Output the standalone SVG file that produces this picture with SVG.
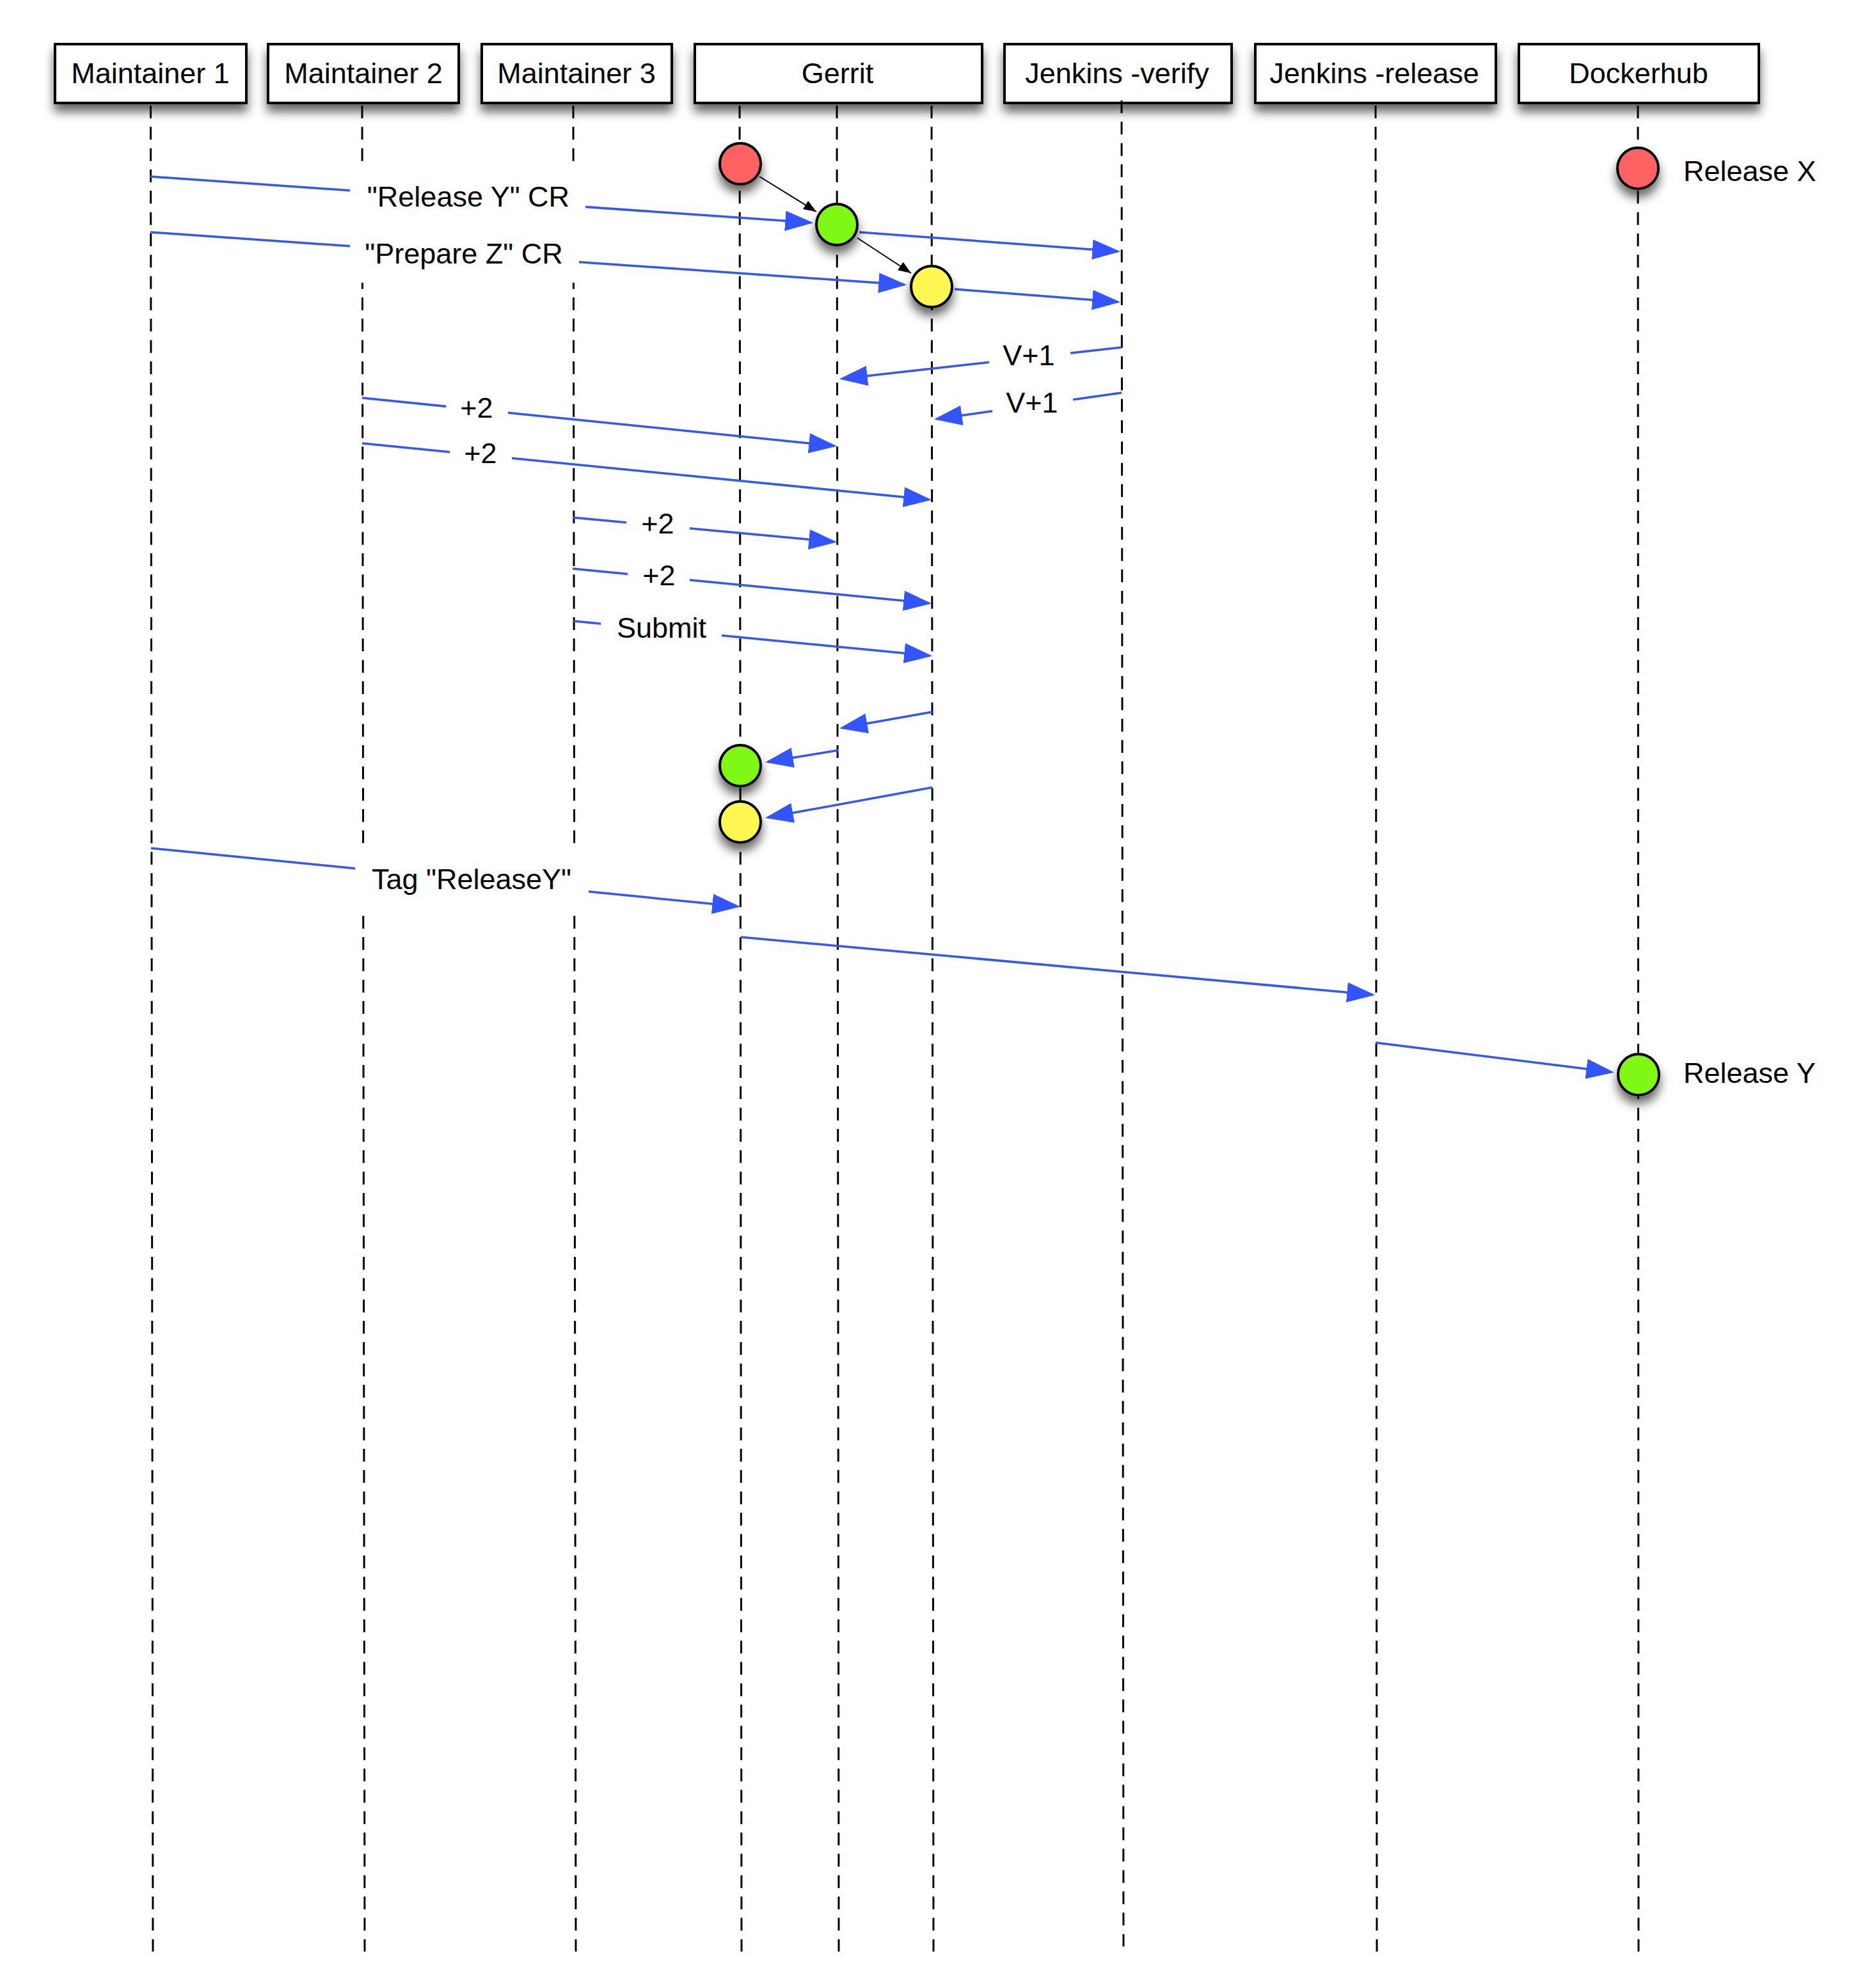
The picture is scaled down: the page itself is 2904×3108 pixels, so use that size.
<svg xmlns="http://www.w3.org/2000/svg" width="2904" height="3108" viewBox="0 0 2904 3108">
<style>
text{font-family:"Liberation Sans",Arial,Helvetica,sans-serif;font-size:45px;fill:#000}
.box{fill:#fff;stroke:#000;stroke-width:4}
.life{stroke:#000;stroke-width:3;stroke-dasharray:20 13.333;fill:none}
.msg{stroke:#3355ff;stroke-width:3.5;fill:none;marker-end:url(#blueArrow)}
.lnk{stroke:#000;stroke-width:2;fill:none;marker-end:url(#blackArrow)}
.lbl{fill:#fff}
.dot{stroke:#000;stroke-width:4}
.red{fill:#ff6262}
.green{fill:#80f814}
.yellow{fill:#fff852}
</style>
<defs>
<filter id="shadow" x="-30%" y="-30%" width="160%" height="200%">
<feDropShadow dx="0" dy="12" stdDeviation="8" flood-color="#000" flood-opacity="0.6"/>
</filter>
<marker id="blueArrow" markerUnits="userSpaceOnUse" markerWidth="44" markerHeight="32" viewBox="0 0 42 30" refX="38" refY="15" orient="auto">
<path d="M0,0 L42,15 L0,30 Z" fill="#3355ff"/>
</marker>
<marker id="blackArrow" markerUnits="userSpaceOnUse" markerWidth="20" markerHeight="16" viewBox="0 0 18 14" refX="18" refY="7" orient="auto">
<path d="M0,0 L18,7 L0,14 Z" fill="#000"/>
</marker>
</defs>
<rect width="2904" height="3108" fill="#fff"/>

<g id="maintainer1">
<rect class="box" x="86" y="69" width="299" height="92" filter="url(#shadow)"/>
<text x="235" y="130" text-anchor="middle">Maintainer 1</text>
<line class="life" x1="235.5" y1="165" x2="239" y2="3051"/>
</g>
<g id="maintainer2">
<rect class="box" x="419" y="69" width="298" height="92" filter="url(#shadow)"/>
<text x="568" y="130" text-anchor="middle">Maintainer 2</text>
<line class="life" x1="566" y1="165" x2="570" y2="3051"/>
</g>
<g id="maintainer3">
<rect class="box" x="753" y="69" width="297" height="92" filter="url(#shadow)"/>
<text x="901" y="130" text-anchor="middle">Maintainer 3</text>
<line class="life" x1="896" y1="165" x2="900" y2="3051"/>
</g>
<g id="gerrit">
<rect class="box" x="1086" y="69" width="449" height="92" filter="url(#shadow)"/>
<text x="1309" y="130" text-anchor="middle">Gerrit</text>
<line class="life" x1="1156" y1="165" x2="1159" y2="3051"/>
<line class="life" x1="1308" y1="165" x2="1311" y2="3051"/>
<line class="life" x1="1456" y1="165" x2="1459" y2="3051"/>
</g>
<g id="jenkins-verify">
<rect class="box" x="1570" y="69" width="355" height="92" filter="url(#shadow)"/>
<text x="1746" y="130" text-anchor="middle">Jenkins -verify</text>
<line class="life" x1="1753" y1="157" x2="1756" y2="3043"/>
</g>
<g id="jenkins-release">
<rect class="box" x="1962" y="69" width="376" height="92" filter="url(#shadow)"/>
<text x="2148" y="130" text-anchor="middle">Jenkins -release</text>
<line class="life" x1="2150" y1="165" x2="2152" y2="3051"/>
</g>
<g id="dockerhub">
<rect class="box" x="2374" y="69" width="375" height="92" filter="url(#shadow)"/>
<text x="2561" y="130" text-anchor="middle">Dockerhub</text>
<line class="life" x1="2560" y1="165" x2="2561" y2="3051"/>
</g>

<g id="connectors">
<path class="msg" d="M235,276 L1267,348"/>
<path class="msg" d="M235,363 L1413,445"/>
<path class="msg" d="M1343,363 L1747,393"/>
<path class="msg" d="M1492,452 L1747,472"/>
<path class="msg" d="M1753,543 L1316,592"/>
<path class="msg" d="M1753,614 L1464,655"/>
<path class="msg" d="M566,622 L1304,697"/>
<path class="msg" d="M566,693 L1452,781"/>
<path class="msg" d="M895,809 L1304,847"/>
<path class="msg" d="M895,889 L1452,943"/>
<path class="msg" d="M897,971 L1453,1025"/>
<path class="msg" d="M1457,1113 L1316,1138"/>
<path class="msg" d="M1310,1173 L1200,1191"/>
<path class="msg" d="M1457,1231 L1200,1278"/>
<path class="msg" d="M236,1326 L1153,1417"/>
<path class="msg" d="M1158,1465 L2145,1555"/>
<path class="msg" d="M2150,1630 L2519,1676"/>
<path class="lnk" d="M1187,276 L1276,331"/>
<path class="lnk" d="M1340,372 L1424,427"/>

<rect class="lbl" x="547" y="258" width="368" height="94"/>
<text x="732" y="323" text-anchor="middle">"Release Y" CR</text>
<rect class="lbl" x="547" y="352" width="358" height="90"/>
<text x="725" y="412" text-anchor="middle">"Prepare Z" CR</text>
<rect class="lbl" x="1546" y="527" width="127" height="58"/>
<text x="1608" y="571" text-anchor="middle">V+1</text>
<rect class="lbl" x="1551" y="601" width="126" height="58"/>
<text x="1613" y="645" text-anchor="middle">V+1</text>
<rect class="lbl" x="697" y="609" width="97" height="58"/>
<text x="745" y="653" text-anchor="middle">+2</text>
<rect class="lbl" x="703" y="680" width="97" height="58"/>
<text x="751" y="724" text-anchor="middle">+2</text>
<rect class="lbl" x="979" y="790" width="99" height="58"/>
<text x="1028" y="834" text-anchor="middle">+2</text>
<rect class="lbl" x="981" y="871" width="97" height="58"/>
<text x="1030" y="915" text-anchor="middle">+2</text>
<rect class="lbl" x="939" y="953" width="189" height="58"/>
<text x="1034" y="997" text-anchor="middle">Submit</text>
<rect class="lbl" x="555" y="1318" width="365" height="110"/>
<text x="737" y="1390" text-anchor="middle">Tag "ReleaseY"</text>
</g>

<g id="commit-x"><circle class="dot red" cx="1157" cy="256" r="32" filter="url(#shadow)"/></g>
<g id="commit-y"><circle class="dot green" cx="1308" cy="351" r="32" filter="url(#shadow)"/></g>
<g id="commit-z"><circle class="dot yellow" cx="1456" cy="448" r="32" filter="url(#shadow)"/></g>
<g id="merged-y"><circle class="dot green" cx="1157" cy="1197" r="32" filter="url(#shadow)"/></g>
<g id="merged-z"><circle class="dot yellow" cx="1157" cy="1285" r="32" filter="url(#shadow)"/></g>
<g id="release-x"><circle class="dot red" cx="2560" cy="263" r="32" filter="url(#shadow)"/>
<text x="2631" y="283">Release X</text></g>
<g id="release-y"><circle class="dot green" cx="2561" cy="1680" r="32" filter="url(#shadow)"/>
<text x="2631" y="1693">Release Y</text></g>
</svg>
